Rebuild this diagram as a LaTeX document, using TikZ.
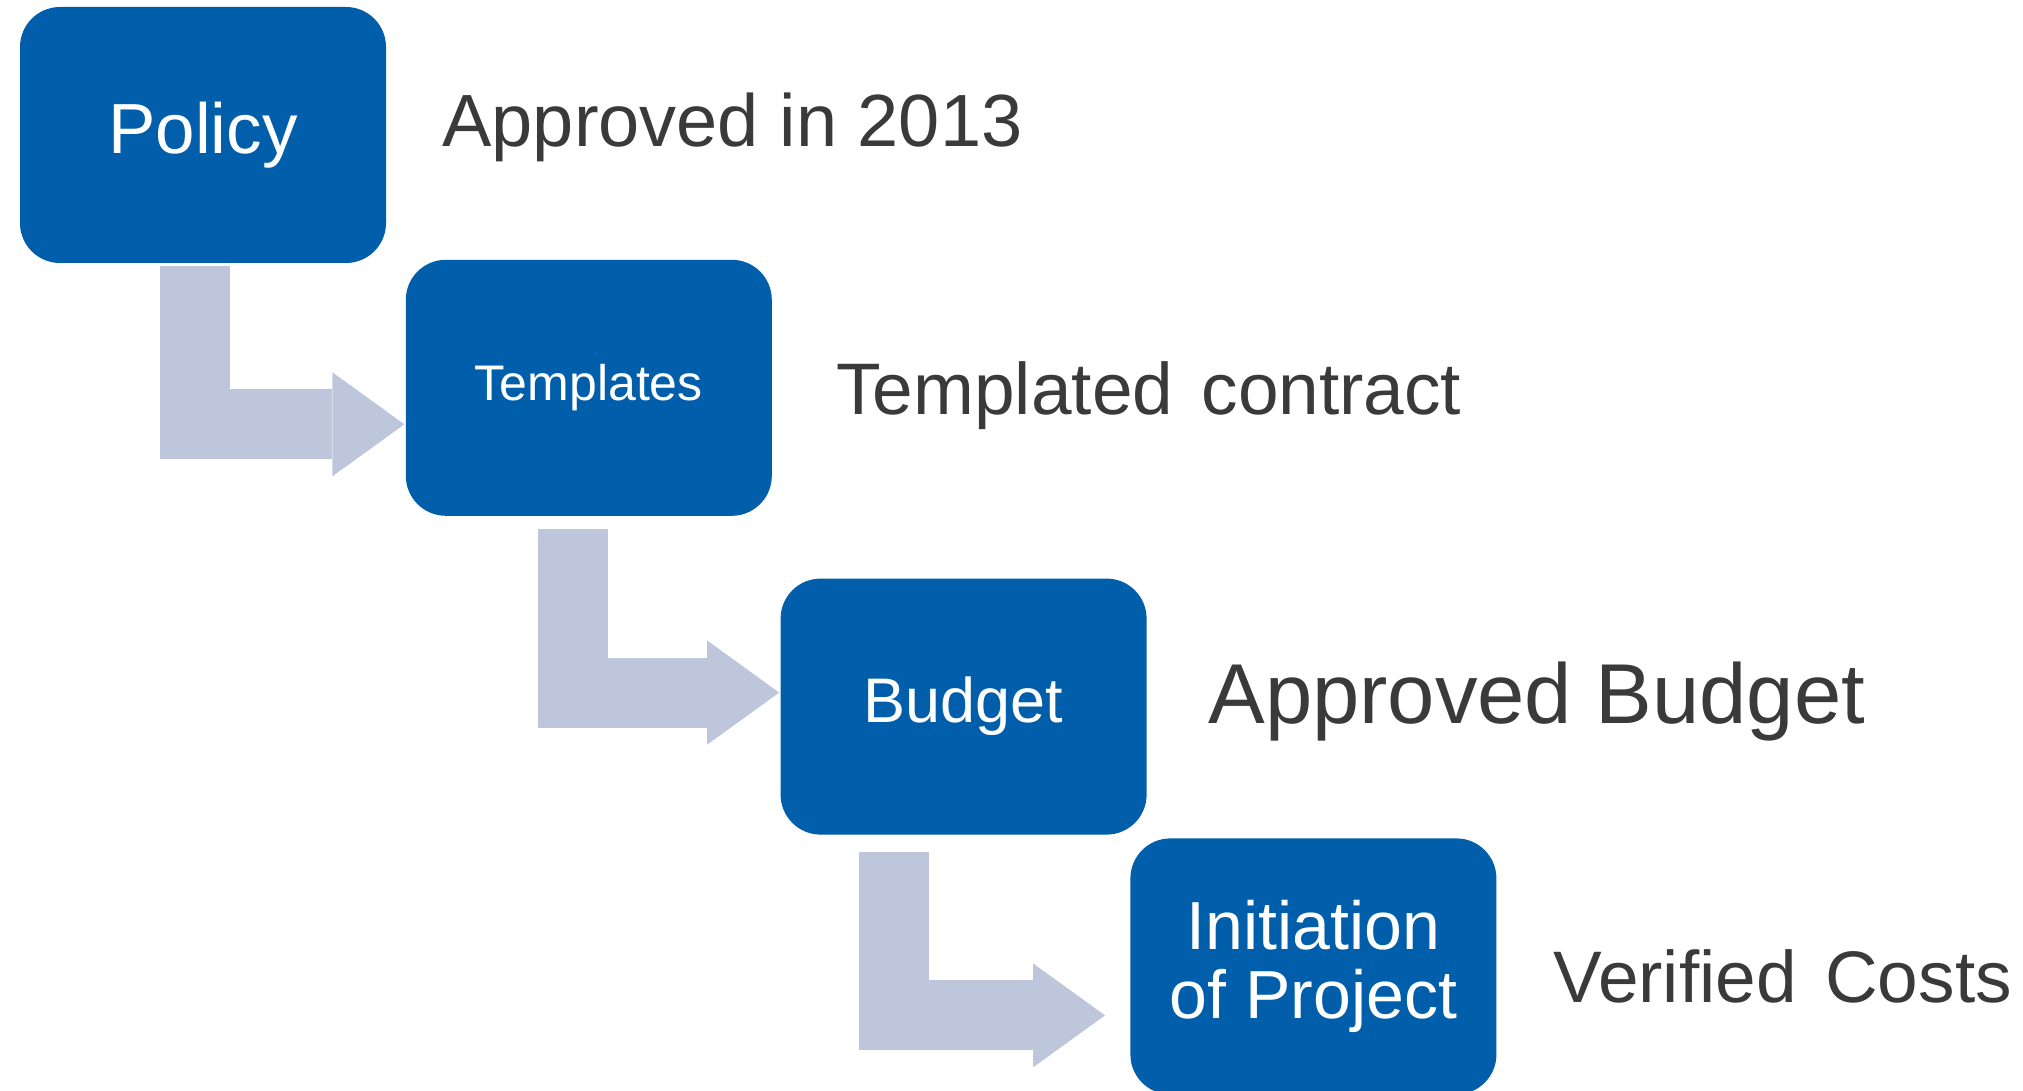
\documentclass[tikz,border=0pt]{standalone}
\usepackage{fontspec}
\setmainfont{Liberation Sans}
\usetikzlibrary{arrows.meta}
\usetikzlibrary{positioning}

\definecolor{boxblue}{RGB}{0,94,170}
\definecolor{arrowgrey}{RGB}{189,198,219}
\definecolor{labelgrey}{RGB}{58,58,58}

\begin{document}
\begin{tikzpicture}[x=0.5pt,y=-0.5pt]
\tikzstyle{box}=[fill=boxblue, text=white, rounded corners=20pt, minimum width=183pt, minimum height=128pt, inner sep=0pt, align=center]
\tikzstyle{lbl}=[anchor=base west, text=labelgrey, inner sep=0pt]
\tikzstyle{wide}=[execute at begin node={\spaceskip=0.39em\relax}]
\tikzstyle{bent}=[draw=arrowgrey, line width=35pt, -{Triangle[length=36pt,width=52pt,line width=0pt]}]
\useasboundingbox (0,0) rectangle (2023,1091);

\node[box, font=\fontsize{35.5}{40}\selectfont]	(Pol)	at (203,135)	{Policy};
\node[box, font=\fontsize{25}{30}\selectfont]	(Tem)	[below right=-2pt and 9.5pt of Pol]	{Templates};
\node[box, font=\fontsize{31.5}{36}\selectfont]	(Bud)	[below right=31pt and 4pt of Tem]	{Budget};
\node[box, font=\fontsize{34}{34.5}\selectfont]	(Ini)	[below right=1.5pt and -8.5pt of Bud]	{Initiation\\of Project};

\node[lbl, font=\fontsize{37}{44}\selectfont]	(PolL)	at (442,147)	{Approved in 2013};
\node[lbl, wide, font=\fontsize{36.5}{44}\selectfont]	(TemL)	at (836,414)	{Templated contract};
\node[lbl, font=\fontsize{42.5}{50}\selectfont]	(BudL)	at (1208,723)	{Approved Budget};
\node[lbl, wide, font=\fontsize{36.5}{44}\selectfont]	(IniL)	at (1553,1002)	{Verified Costs};

\draw[bent]	([shift={(175,3)}]Pol.south west)	|-	([shift={(-1,36.5)}]Tem.west);
\draw[bent]	([shift={(168,13)}]Tem.south west)	|-	([shift={(-1,-14)}]Bud.west);
\draw[bent]	([shift={(114,17)}]Bud.south west)	|-	([shift={(-25,49)}]Ini.west);
\end{tikzpicture}
\end{document}
